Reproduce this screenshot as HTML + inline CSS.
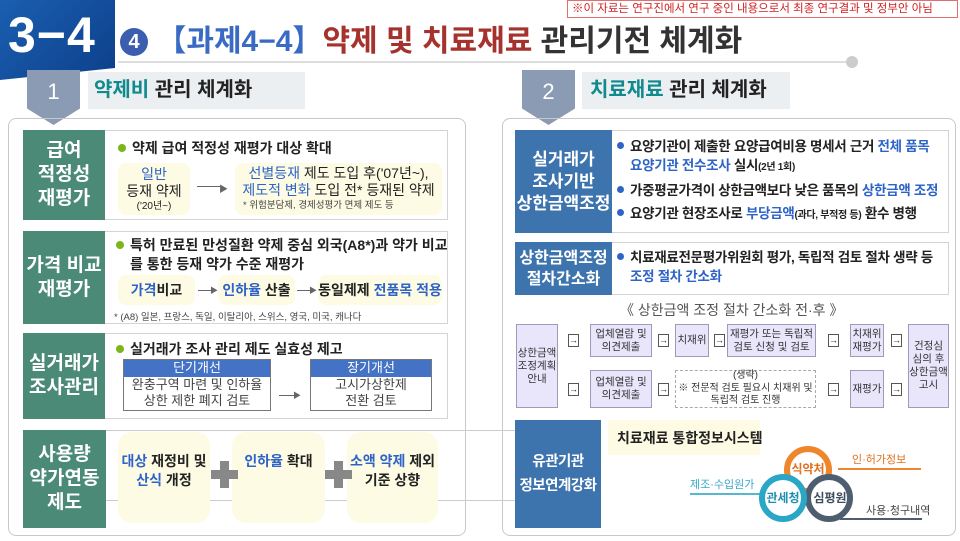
<!DOCTYPE html>
<html><head><meta charset="utf-8"><style>
*{margin:0;padding:0;box-sizing:border-box}
body{width:960px;height:541px;position:relative;overflow:hidden;background:#fff;font-family:"Liberation Sans","Noto Sans CJK KR",sans-serif;color:#222}
.a{position:absolute}
.c{display:flex;align-items:center;justify-content:center;text-align:center;flex-direction:column}
.g{background:#4a8a76;color:#fff;font-weight:bold;font-size:19px;line-height:24px}
.b{background:#3d74ad;color:#fff;font-weight:bold;font-size:17px;line-height:22px}
.row{border:1px solid #d4d4d4;background:#fff}
.y{background:#fdfbe3;border-radius:8px}
.bl{color:#2e64c8}
.t{font-size:14px;font-weight:bold;white-space:nowrap}
.dot{display:inline-block;width:8px;height:8px;border-radius:50%;background:#7cb518;margin-right:6px;vertical-align:1px}
.bdot{display:inline-block;width:7px;height:7px;border-radius:50%;background:#2e64c8;margin-right:6px;vertical-align:2px}
.fl{background:#e9e6fb;border:1px solid #9e9ab8;font-size:10.5px;line-height:13px;color:#333}
.ab{width:11px;height:13px;border:1px solid #555;font-size:9px;line-height:11px;text-align:center;background:#fff}
.pl{background:#888}
</style></head><body>
<div class="a" style="left:0;top:0;width:115px;height:80px;background:linear-gradient(135deg,#1a5fb0,#0d3f8a);clip-path:polygon(0 0,100% 0,100% 85%,0 100%)"></div>
<div class="a" style="left:8px;top:6px;font-size:50px;color:#fff;font-weight:bold;letter-spacing:1px">3−4</div>
<div class="a t" style="left:120px;top:16px;font-size:30px;"><span style="display:inline-block;width:28px;height:28px;border-radius:50%;background:#3b5fae;color:#fff;font-size:20px;line-height:28px;text-align:center;vertical-align:3px">4</span> <span style="color:#3a6bc4">【과제4−4】</span><span style="color:#a6322e">약제 및 치료재료</span> <span style="color:#333">관리기전 체계화</span></div>
<div class="a" style="left:118px;top:61px;width:730px;height:2px;background:#ddd"></div>
<div class="a" style="left:846px;top:56px;width:12px;height:12px;border-radius:50%;background:#ccc"></div>
<div class="a" style="left:567px;top:0;width:391px;height:18px;border:1px solid #e07070;background:#fff;color:#d02020;font-size:11.5px;line-height:16px;padding-left:4px;white-space:nowrap">※이 자료는 연구진에서 연구 중인 내용으로서 최종 연구결과 및 정부안 아님</div>

<div class="a c" style="left:27px;top:70px;width:53px;height:55px;background:#8b9bb4;clip-path:polygon(0 0,100% 0,100% 70%,50% 100%,0 70%);color:#fff;font-size:22px;padding-bottom:12px">1</div>
<div class="a" style="left:88px;top:72px;width:217px;height:37px;background:#eceff2;font-size:20px;font-weight:bold;line-height:37px;padding-left:6px">
<span style="color:#108a8c">약제비</span> 관리 체계화</div>
<div class="a c" style="left:522px;top:70px;width:53px;height:55px;background:#8b9bb4;clip-path:polygon(0 0,100% 0,100% 70%,50% 100%,0 70%);color:#fff;font-size:22px;padding-bottom:12px">2</div>
<div class="a" style="left:582px;top:72px;width:208px;height:37px;background:#eceff2;font-size:20px;font-weight:bold;line-height:37px;padding-left:8px">
<span style="color:#108a8c">치료재료</span> 관리 체계화</div>

<div class="a" style="left:8px;top:118px;width:458px;height:418px;border:1px solid #c8c8c8;border-radius:8px"></div>
<div class="a" style="left:502px;top:118px;width:454px;height:418px;border:1px solid #c8c8c8;border-radius:8px"></div>

<div class="a row" style="left:23px;top:130px;width:425px;height:90px"></div>
<div class="a c g" style="left:23px;top:130px;width:82px;height:90px">급여<br>적정성<br>재평가</div>
<div class="a t" style="left:118px;top:138px"><span class="dot"></span>약제 급여 적정성 재평가 대상 확대</div>
<div class="a y c" style="left:118px;top:163px;width:72px;height:52px;font-size:14px;line-height:17px"><span class="bl">일반</span>등재 약제<span style="font-size:10px;line-height:13px">('20년~)</span></div>
<div class="a" style="left:197px;top:186px;width:26px;height:1px;background:#666"></div><div class="a" style="left:219px;top:182px;font-size:9px;color:#666">▶</div>
<div class="a y" style="left:235px;top:163px;width:207px;height:52px;text-align:center;font-size:14px;line-height:17px;padding-top:2px"><span class="bl">선별등재</span> 제도 도입 후('07년~),<br><span class="bl">제도적 변화</span> 도입 전* 등재된 약제<div style="font-size:9.5px;line-height:13px;color:#444;text-align:left;padding-left:8px">* 위험분담제, 경제성평가 면제 제도 등</div></div>

<div class="a row" style="left:23px;top:231px;width:425px;height:93px"></div>
<div class="a c g" style="left:23px;top:231px;width:82px;height:93px">가격 비교<br>재평가</div>
<div class="a t" style="left:116px;top:236px;line-height:19px"><span class="dot"></span>특허 만료된 만성질환 약제 중심 외국(A8*)과 약가 비교<br><span style="padding-left:14px">를 통한 등재 약가 수준 재평가</span></div>
<div class="a y c" style="left:118px;top:275px;width:77px;height:30px;font-size:14px;font-weight:bold"><span><span class="bl">가격</span>비교</span></div>
<div class="a" style="left:198px;top:290px;width:15px;height:1px;background:#666"></div><div class="a" style="left:210px;top:285px;font-size:8px;color:#666">▶</div>
<div class="a y c" style="left:218px;top:275px;width:77px;height:30px;font-size:14px;font-weight:bold"><span><span class="bl">인하율</span> 산출</span></div>
<div class="a" style="left:297px;top:290px;width:15px;height:1px;background:#666"></div><div class="a" style="left:309px;top:285px;font-size:8px;color:#666">▶</div>
<div class="a y c" style="left:318px;top:275px;width:124px;height:30px;font-size:14px;font-weight:bold"><span>동일제제 <span class="bl">전품목 적용</span></span></div>
<div class="a" style="left:114px;top:309px;font-size:9.5px;color:#444;white-space:nowrap">* (A8) 일본, 프랑스, 독일, 이탈리아, 스위스, 영국, 미국, 캐나다</div>

<div class="a row" style="left:23px;top:333px;width:425px;height:86px"></div>
<div class="a c g" style="left:23px;top:333px;width:82px;height:86px">실거래가<br>조사관리</div>
<div class="a t" style="left:116px;top:339px"><span class="dot"></span>실거래가 조사 관리 제도 실효성 제고</div>
<div class="a" style="left:123px;top:359px;width:148px;height:52px;border:1px solid #777;font-size:13px;text-align:center;line-height:16px;color:#444"><div style="background:#4472c4;color:#fff;height:17px">단기개선</div>완충구역 마련 및 인하율<br>상한 제한 폐지 검토</div>
<div class="a" style="left:279px;top:395px;width:18px;height:1px;background:#666"></div><div class="a" style="left:293px;top:390px;font-size:8px;color:#666">▶</div>
<div class="a" style="left:310px;top:359px;width:122px;height:52px;border:1px solid #777;font-size:13px;text-align:center;line-height:16px;color:#444"><div style="background:#4472c4;color:#fff;height:17px">장기개선</div>고시가상한제<br>전환 검토</div>

<div class="a" style="left:23px;top:430px;width:493px;height:1px;background:#ccc"></div>
<div class="a" style="left:106px;top:500px;width:410px;height:1px;background:#ccc"></div>
<div class="a c g" style="left:23px;top:430px;width:83px;height:98px">사용량<br>약가연동<br>제도</div>
<div class="a y" style="left:118px;top:432px;width:92px;height:91px;border-radius:14px;text-align:center;font-size:14px;font-weight:bold;line-height:19px;padding-top:20px"><span class="bl">대상</span> 재정비 및<br><span class="bl">산식</span> 개정</div>
<div class="a y" style="left:232px;top:432px;width:93px;height:91px;border-radius:14px;text-align:center;font-size:14px;font-weight:bold;line-height:19px;padding-top:20px"><span class="bl">인하율</span> 확대</div>
<div class="a y" style="left:347px;top:432px;width:91px;height:91px;border-radius:14px;text-align:center;font-size:14px;font-weight:bold;line-height:19px;padding-top:20px"><span class="bl">소액 약제</span> 제외<br>기준 상향</div>
<div class="a pl" style="left:211px;top:470px;width:27px;height:9px"></div><div class="a pl" style="left:220px;top:461px;width:9px;height:27px"></div>
<div class="a pl" style="left:325px;top:470px;width:27px;height:9px"></div><div class="a pl" style="left:334px;top:461px;width:9px;height:27px"></div>

<div class="a row" style="left:515px;top:130px;width:434px;height:103px"></div>
<div class="a c b" style="left:515px;top:130px;width:97px;height:103px;font-size:17px">실거래가<br>조사기반<br>상한금액조정</div>
<div class="a" style="left:617px;top:137px;font-size:13.5px;font-weight:bold;line-height:19px;white-space:nowrap;letter-spacing:-0.3px">
<div><span class="bdot"></span>요양기관이 제출한 요양급여비용 명세서 근거 <span class="bl">전체 품목</span></div>
<div style="padding-left:13px;margin-bottom:4px"><span class="bl">요양기관 전수조사</span> 실시<span style="font-size:10px">(2년 1회)</span></div>
<div style="margin-bottom:4px"><span class="bdot"></span>가중평균가격이 상한금액보다 낮은 품목의 <span class="bl">상한금액 조정</span></div>
<div><span class="bdot"></span>요양기관 현장조사로 <span class="bl">부당금액</span><span style="font-size:10px">(과다, 부적정 등)</span> 환수 병행</div></div>

<div class="a row" style="left:515px;top:242px;width:434px;height:53px"></div>
<div class="a c b" style="left:515px;top:242px;width:97px;height:53px;font-size:16px;line-height:21px">상한금액조정<br>절차간소화</div>
<div class="a" style="left:617px;top:248px;font-size:13.5px;font-weight:bold;line-height:19px;white-space:nowrap;letter-spacing:-0.3px">
<div><span class="bdot"></span>치료재료전문평가위원회 평가, 독립적 검토 절차 생략 등</div>
<div style="padding-left:13px" class="bl">조정 절차 간소화</div></div>

<div class="a" style="left:620px;top:300px;width:220px;text-align:center;font-size:14px;color:#555">《 상한금액 조정 절차 간소화 전·후 》</div>

<div class="a c fl" style="left:516px;top:324px;width:42px;height:84px">상한금액<br>조정계획<br>안내</div>
<div class="a c fl" style="left:590px;top:324px;width:62px;height:33px">업체열람 및<br>의견제출</div>
<div class="a c fl" style="left:675px;top:324px;width:34px;height:33px">치재위</div>
<div class="a c fl" style="left:727px;top:324px;width:89px;height:33px">재평가 또는 독립적<br>검토 신청 및 검토</div>
<div class="a c fl" style="left:850px;top:324px;width:34px;height:33px">치재위<br>재평가</div>
<div class="a c fl" style="left:908px;top:324px;width:41px;height:84px">건정심<br>심의 후<br>상한금액<br>고시</div>
<div class="a c fl" style="left:590px;top:370px;width:62px;height:38px">업체열람 및<br>의견제출</div>
<div class="a c" style="left:675px;top:370px;width:141px;height:38px;border:1px dashed #aaa;font-size:10px;line-height:12.5px;color:#333">(생략)<br>※ 전문적 검토 필요시 치재위 및<br>독립적 검토 진행</div>
<div class="a c fl" style="left:850px;top:370px;width:34px;height:38px">재평가</div>
<div class="a ab" style="left:568px;top:334px">→</div><div class="a ab" style="left:568px;top:383px">→</div>
<div class="a ab" style="left:658px;top:334px">→</div><div class="a ab" style="left:658px;top:383px">→</div>
<div class="a ab" style="left:714px;top:334px">→</div>
<div class="a ab" style="left:828px;top:334px">→</div><div class="a ab" style="left:828px;top:383px">→</div>
<div class="a ab" style="left:891px;top:334px">→</div><div class="a ab" style="left:891px;top:383px">→</div>

<div class="a c b" style="left:515px;top:420px;width:86px;height:108px;font-size:14.5px;line-height:24px;white-space:nowrap;letter-spacing:-0.5px">유관기관<br>정보연계강화</div>
<div class="a" style="left:608px;top:420px;width:152px;height:35px;background:#fdfbe3;font-size:14px;font-weight:bold;padding:8px 0 0 9px;white-space:nowrap">치료재료 통합정보시스템</div>
<div class="a" style="left:838px;top:468px;width:83px;height:2px;background:#f0862c"></div>
<div class="a" style="left:852px;top:451px;font-size:11px;color:#e0701c;white-space:nowrap">인·허가정보</div>
<div class="a" style="left:690px;top:493px;width:75px;height:2px;background:#55b8d0"></div>
<div class="a" style="left:690px;top:476px;font-size:11px;color:#3aa8c8;white-space:nowrap">제조·수입원가</div>
<div class="a" style="left:840px;top:518px;width:82px;height:2px;background:#4e5e70"></div>
<div class="a" style="left:866px;top:502px;font-size:11px;color:#444;white-space:nowrap">사용·청구내역</div>
<svg class="a" style="left:750px;top:440px" width="110" height="90">
<circle cx="58" cy="30" r="21" fill="#fff" stroke="#f0862c" stroke-width="6"/>
<circle cx="79" cy="58" r="21" fill="#fff" stroke="#4e5e70" stroke-width="6"/>
<circle cx="33" cy="58" r="21" fill="#fff" stroke="#2aa6c6" stroke-width="6"/>
<text x="58" y="33" font-size="12" font-weight="bold" fill="#e0701c" text-anchor="middle" font-family="Liberation Sans,Noto Sans CJK KR,sans-serif">식약처</text>
<text x="33" y="62" font-size="12" font-weight="bold" fill="#1f8fb0" text-anchor="middle" font-family="Liberation Sans,Noto Sans CJK KR,sans-serif">관세청</text>
<text x="80" y="62" font-size="12" font-weight="bold" fill="#3e4c5c" text-anchor="middle" font-family="Liberation Sans,Noto Sans CJK KR,sans-serif">심평원</text>
</svg>
</body></html>
